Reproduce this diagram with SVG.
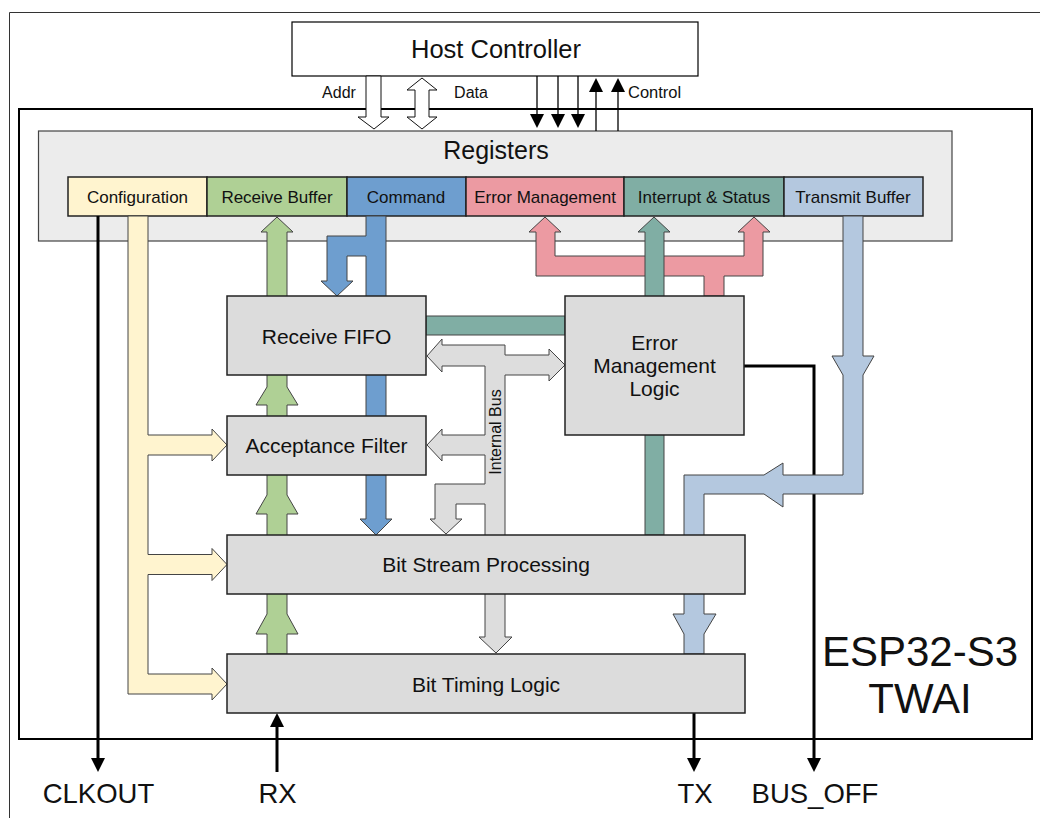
<svg xmlns="http://www.w3.org/2000/svg" width="1040" height="818" viewBox="0 0 1040 818">
<style>
text{font-family:"Liberation Sans",Arial,sans-serif;fill:#111;}
.blk{fill:#dcdcdc;stroke:#222;stroke-width:1.5;}
.cell{stroke:#222;stroke-width:1.5;}
.lbl{font-size:21px;text-anchor:middle;}
.clbl{font-size:17px;text-anchor:middle;}
.pin{font-size:27.5px;text-anchor:middle;}
.sig{fill:none;stroke:#000;stroke-width:3;}
.thin{fill:none;stroke:#000;stroke-width:1.3;}
.bus{stroke:#444;stroke-width:1;}
.hollow{fill:#fff;stroke:#111;stroke-width:1;}
</style>
<defs>
<marker id="ah" markerUnits="userSpaceOnUse" markerWidth="14" markerHeight="14" refX="2" refY="7" orient="auto">
<path d="M0,0 L14,7 L0,14 z" fill="#000"/>
</marker>
</defs>
<rect width="1040" height="818" fill="#fff"/>
<path d="M9.5 818 V12.5 H1040" fill="none" stroke="#333" stroke-width="1"/>
<g id="esp32">
<rect x="19" y="109" width="1013" height="630" fill="#fff" stroke="#000" stroke-width="2"/>
<text x="920" y="666" style="font-size:42px;text-anchor:middle">ESP32-S3</text>
<text x="920" y="713" style="font-size:42px;text-anchor:middle">TWAI</text>
</g>
<g id="host">
<rect x="292" y="22" width="406" height="54" fill="#fff" stroke="#000" stroke-width="1.2"/>
<text x="496" y="58" style="font-size:25.5px;text-anchor:middle">Host Controller</text>
</g>
<g id="registers">
<rect x="38.5" y="131" width="913.5" height="110" fill="#ececec" stroke="#444" stroke-width="1.2"/>
<text x="496" y="159" style="font-size:25px;text-anchor:middle">Registers</text>
<g id="reg-config"><rect class="cell" x="68" y="177" width="139" height="39" fill="#fff4cf"/><text class="clbl" x="137.5" y="202.5">Configuration</text></g>
<g id="reg-rxbuf"><rect class="cell" x="207" y="177" width="140" height="39" fill="#afd095"/><text class="clbl" x="277" y="202.5">Receive Buffer</text></g>
<g id="reg-command"><rect class="cell" x="347" y="177" width="119" height="39" fill="#6e9ecf"/><text class="clbl" x="406" y="202.5">Command</text></g>
<g id="reg-error"><rect class="cell" x="466" y="177" width="158" height="39" fill="#ec9aa2"/><text class="clbl" x="545" y="202.5">Error Management</text></g>
<g id="reg-interrupt"><rect class="cell" x="624" y="177" width="160" height="39" fill="#80aea4"/><text class="clbl" x="704" y="202.5">Interrupt &amp; Status</text></g>
<g id="reg-txbuf"><rect class="cell" x="784" y="177" width="139" height="39" fill="#b4c8df"/><text class="clbl" x="853" y="202.5">Transmit Buffer</text></g>
</g>
<g id="connectors">
<polygon class="hollow" points="366,76 381,76 381,117 389,117 374,129 358,117 366,117"/>
<polygon class="hollow" points="422,78 437,90 429,90 429,117 437,117 422,129 407,117 415,117 415,90 407,90"/>
<path class="thin" d="M537 76 V116" marker-end="url(#ah)"/>
<path class="thin" d="M558 76 V116" marker-end="url(#ah)"/>
<path class="thin" d="M578 76 V116" marker-end="url(#ah)"/>
<path class="thin" d="M596 131 V90" marker-end="url(#ah)"/>
<path class="thin" d="M618 131 V90" marker-end="url(#ah)"/>
<text x="339" y="98" style="font-size:16px;text-anchor:middle">Addr</text>
<text x="471" y="98" style="font-size:16px;text-anchor:middle">Data</text>
<text x="628" y="98" style="font-size:16.5px">Control</text>
<path class="sig" d="M98 216 V760" marker-end="url(#ah)"/>
<path class="sig" d="M277 772 V725" marker-end="url(#ah)"/>
<path class="sig" d="M694 713 V760" marker-end="url(#ah)"/>
<path class="sig" d="M744 366 H814 V760" marker-end="url(#ah)"/>
<polygon class="bus" fill="#fff4cf" points="128,216 148,216 148,435 212,435 212,429 227,445 212,461 212,455 148,455 148,554.5 212,554.5 212,548.5 227,564.5 212,580.5 212,574.5 148,574.5 148,674 212,674 212,668 227,684 212,700 212,694 128,694"/>
<polygon class="bus" fill="#afd095" points="277,217 293,232 287,232 287,387 298,405 287,405 287,495 298,514 287,514 287,614 298,634 287,634 287,654 267,654 267,634 256,634 267,614 267,514 256,514 267,495 267,405 256,405 267,387 267,232 261,232"/>
<polygon class="bus" fill="#6e9ecf" points="366,216 386,216 386,519 392,519 376,535 360,519 366,519 366,256 347,256 347,281 353,281 337,296 321,281 327,281 327,236 366,236"/>
<polygon class="bus" fill="#ec9aa2" points="545,217 561,232 555,232 555,256 744,256 744,232 738,232 754,217 770,232 763,232 763,276 724,276 724,296 704,296 704,276 536,276 536,232 529,232"/>
<rect class="bus" x="426" y="316" width="139" height="19" fill="#80aea4"/>
<polygon class="bus" fill="#80aea4" points="654,217 670,232 664,232 664,535 645,535 645,232 638,232"/>
<polygon class="bus" fill="#b4c8df" points="843,216 863,216 863,356 874,356 863,375 863,494 783,494 783,507 764,494 704,494 704,614 716,614 704,634 704,654 684,654 684,634 673,614 684,614 684,475 764,475 783,463 783,475 843,475 843,375 832,356 843,356"/>
<polygon class="bus" fill="#dddddd" points="427,356 442,339 442,345 505,345 505,355 549,355 549,349 565,365 549,381 549,375 505,375 505,637 512,637 496,653 479,637 485,637 485,504 456,504 456,519 462,519 446,534 430,519 435,519 435,484 485,484 485,455 442,455 442,461 427,445 442,429 442,435 485,435 485,366 442,366 442,372"/>
<text x="501" y="432" transform="rotate(-90 501 432)" style="font-size:16px;text-anchor:middle">Internal Bus</text>
</g>
<g id="receive-fifo"><rect class="blk" x="227" y="296" width="199" height="79"/><text class="lbl" x="326.5" y="343.5">Receive FIFO</text></g>
<g id="acceptance-filter"><rect class="blk" x="227" y="416" width="199" height="59"/><text class="lbl" x="326.5" y="453">Acceptance Filter</text></g>
<g id="error-logic"><rect class="blk" x="565" y="296" width="179" height="139"/><text class="lbl" x="654.5" y="350">Error</text><text class="lbl" x="654.5" y="373">Management</text><text class="lbl" x="654.5" y="396">Logic</text></g>
<g id="bit-stream"><rect class="blk" x="227" y="535" width="518" height="59"/><text class="lbl" x="486" y="572">Bit Stream Processing</text></g>
<g id="bit-timing"><rect class="blk" x="227" y="654" width="518" height="59"/><text class="lbl" x="486" y="692">Bit Timing Logic</text></g>
<g id="pins">
<text class="pin" x="98.5" y="803">CLKOUT</text>
<text class="pin" x="277.5" y="803">RX</text>
<text class="pin" x="695" y="803">TX</text>
<text class="pin" x="815" y="803">BUS_OFF</text>
</g>
</svg>
